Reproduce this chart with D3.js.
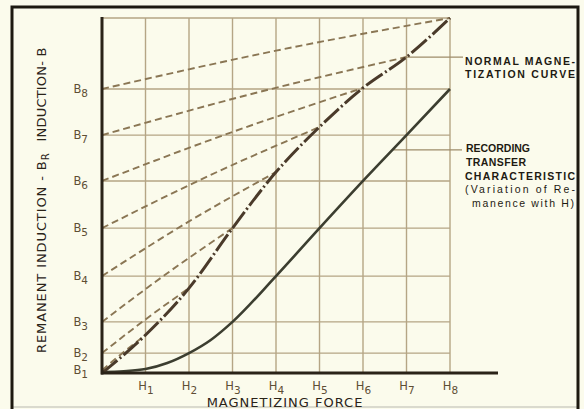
<!DOCTYPE html>
<html>
<head>
<meta charset="utf-8">
<script src="https://cdn.jsdelivr.net/npm/d3@7"></script>
<style>
  body { margin: 0; background: #fbfbec; }
  svg { display: block; }
  text { font-family: "DejaVu Sans", sans-serif; }
</style>
</head>
<body>
<script>
// ---- data (H in grid units, B in % of full height) ----
const hTicks = [1, 2, 3, 4, 5, 6, 7, 8];
const hSubs = ['1', '2', '3', '4', '5', '6', '7', '8'];

// B1..B8 remanence levels on the left axis
const bLevels = [0.8, 5.6, 14.4, 27.3, 40.8, 54.1, 67.0, 80.0];
const bSubs = ['1', '2', '3', '4', '5', '6', '7', '8'];
const bTop = 100;

// normal magnetization curve
const normalH = [0, 1, 2, 3, 4, 5, 6, 7, 8];
const normalB = [0, 10.7, 23.9, 40.8, 56.6, 69.3, 80.3, 89.0, 100];

// recording transfer characteristic (remanence vs H)
const transferH = [0, 0.5, 1, 1.5, 2, 2.5, 3, 4, 5, 6, 7, 8];
const transferB = [0.3, 0.5, 1.1, 2.8, 5.6, 9.3, 14.4, 27.3, 40.8, 54.1, 67.0, 80.0];

// dashed recoil lines: from (0, Bk) through a mid point to the normal curve at Hk
const recoilMidH = [0.5, 1, 1.5, 2, 2.5, 3, 3.5, 4];
const recoilMidB = [5.9, 15.1, 28.1, 42.7, 55.8, 67.9, 78.8, 90.8];

// where the callout leaders leave the curves
const normalNoteH = 7;
const transferNoteH = 6.7;

const W = 584, H = 409;
const svg = d3.select('body').append('svg')
    .attr('width', W)
    .attr('height', H);

const x = d3.scaleLinear().domain([0, 8]).range([102, 450]);
const y = d3.scaleLinear().domain([0, bTop]).range([373, 18]);

const gridColor = '#b5a585';
const ink = '#2a2318';

// outer frame
svg.append('line')
    .attr('x1', 12).attr('x2', 578).attr('y1', 407).attr('y2', 407)
    .attr('stroke', '#cfcfc4').attr('stroke-width', 1.5);
svg.append('path')
    .attr('d', 'M12,409V7H578V409')
    .attr('fill', 'none')
    .attr('stroke', '#1d1910')
    .attr('stroke-width', 3);

// grid
const grid = svg.append('g').attr('class', 'grid')
    .attr('stroke', gridColor).attr('stroke-width', 1.4);
grid.selectAll('.v').data(hTicks).enter().append('line')
    .attr('x1', d => x(d)).attr('x2', d => x(d))
    .attr('y1', y(bTop)).attr('y2', y(0));
grid.selectAll('.h').data(bLevels.slice(1).concat([bTop])).enter().append('line')
    .attr('x1', x(0)).attr('x2', x(8))
    .attr('y1', d => y(d)).attr('y2', d => y(d));

// leaders to the notes
const normalAt = normalB[normalH.indexOf(normalNoteH)];
svg.append('line')
    .attr('x1', x(normalNoteH)).attr('x2', 463)
    .attr('y1', y(normalAt)).attr('y2', y(normalAt))
    .attr('stroke', '#9e8c6a').attr('stroke-width', 1.3);
const transferAt = d3.scaleLinear().domain(transferH).range(transferB)(transferNoteH);
svg.append('line')
    .attr('x1', x(transferNoteH)).attr('x2', 462)
    .attr('y1', y(transferAt) + 1).attr('y2', y(transferAt) + 1)
    .attr('stroke', '#9e8c6a').attr('stroke-width', 1.3);

// recoil dashed lines
const line = d3.line().x(d => x(d[0])).y(d => y(d[1]));
const recoils = bLevels.map((b, i) => [
    [0, b],
    [recoilMidH[i], recoilMidB[i]],
    [hTicks[i], normalB[normalH.indexOf(hTicks[i])]]
]);
svg.append('g').selectAll('path').data(recoils).enter().append('path')
    .attr('d', line.curve(d3.curveNatural))
    .attr('fill', 'none')
    .attr('stroke', '#8a7654')
    .attr('stroke-width', 1.9)
    .attr('stroke-dasharray', '7,4');

// transfer characteristic
svg.append('path')
    .datum(transferH.map((h, i) => [h, transferB[i]]))
    .attr('d', d3.line().x(d => x(d[0])).y(d => y(d[1])).curve(d3.curveMonotoneX))
    .attr('fill', 'none')
    .attr('stroke', '#3c3e30')
    .attr('stroke-width', 2.6);

// normal magnetization curve, dash-dot
svg.append('path')
    .datum(normalH.map((h, i) => [h, normalB[i]]))
    .attr('d', d3.line().x(d => x(d[0])).y(d => y(d[1])).curve(d3.curveMonotoneX))
    .attr('fill', 'none')
    .attr('stroke', '#4a3a2a')
    .attr('stroke-width', 3)
    .attr('stroke-dasharray', '20,3,2,3');

// x axis
const xAxis = svg.append('g')
    .attr('transform', `translate(0,${y(0)})`)
    .call(d3.axisBottom(x).tickValues(hTicks).tickSize(0).tickPadding(9).tickFormat(''));
xAxis.select('.domain').remove();
xAxis.selectAll('.tick text').each(function (d, i) {
    const t = d3.select(this)
        .attr('fill', '#5e4e34').attr('font-size', 11.5).attr('text-anchor', 'middle');
    t.append('tspan').text('H');
    t.append('tspan').attr('dy', 4).attr('font-size', 10.5).text(hSubs[i]);
});
svg.append('line')
    .attr('x1', x(0) - 1).attr('x2', 498)
    .attr('y1', y(0)).attr('y2', y(0))
    .attr('stroke', ink).attr('stroke-width', 3);

// y axis
const yAxis = svg.append('g')
    .attr('transform', `translate(${x(0)},0)`)
    .call(d3.axisLeft(y).tickValues(bLevels).tickSize(0).tickPadding(14).tickFormat(''));
yAxis.select('.domain').remove();
yAxis.selectAll('.tick text').each(function (d, i) {
    const t = d3.select(this)
        .attr('fill', '#5e4e34').attr('font-size', 11.5).attr('text-anchor', 'end');
    t.append('tspan').text('B');
    t.append('tspan').attr('dy', 4).attr('font-size', 10.5).text(bSubs[i]);
});
svg.append('line')
    .attr('x1', x(0)).attr('x2', x(0))
    .attr('y1', y(bTop) - 1).attr('y2', y(0) + 1.5)
    .attr('stroke', ink).attr('stroke-width', 3);

// axis titles
svg.append('text')
    .attr('x', 285).attr('y', 407)
    .attr('text-anchor', 'middle')
    .attr('font-size', 13).attr('letter-spacing', 1)
    .attr('fill', ink)
    .text('MAGNETIZING FORCE');

const yt = svg.append('text')
    .attr('transform', 'translate(46,353) rotate(-90)')
    .attr('font-size', 13).attr('letter-spacing', 0.9)
    .attr('fill', ink);
yt.append('tspan').text('REMANENT INDUCTION - B');
yt.append('tspan').attr('dy', 3).attr('font-size', 10).text('R');
yt.append('tspan').attr('dy', -3).attr('dx', 11).attr('letter-spacing', 0.2).text('INDUCTION- B');

// notes, each line stretched to the width it takes in the original
const notes = [
    { t: 'NORMAL MAGNE-', x: 465, y: 65, w: 'bold', len: 110 },
    { t: 'TIZATION CURVE', x: 465, y: 78, w: 'bold', len: 110 },
    { t: 'RECORDING', x: 466, y: 152, w: 'bold', len: 64 },
    { t: 'TRANSFER', x: 466, y: 166, w: 'bold', len: 60 },
    { t: 'CHARACTERISTIC', x: 465, y: 180, w: 'bold', len: 110 },
    { t: '(Variation of Re-', x: 465, y: 193, w: 'normal', len: 110 },
    { t: 'manence with H)', x: 472, y: 207, w: 'normal', len: 102 }
];
svg.append('g').selectAll('text').data(notes).enter().append('text')
    .attr('x', d => d.x).attr('y', d => d.y)
    .style('font-family', '"Liberation Sans", Arial, sans-serif')
    .attr('font-size', 10.5)
    .attr('font-weight', d => d.w)
    .attr('textLength', d => d.len)
    .attr('lengthAdjust', 'spacing')
    .attr('fill', '#1e1a12')
    .text(d => d.t);
</script>
</body>
</html>
